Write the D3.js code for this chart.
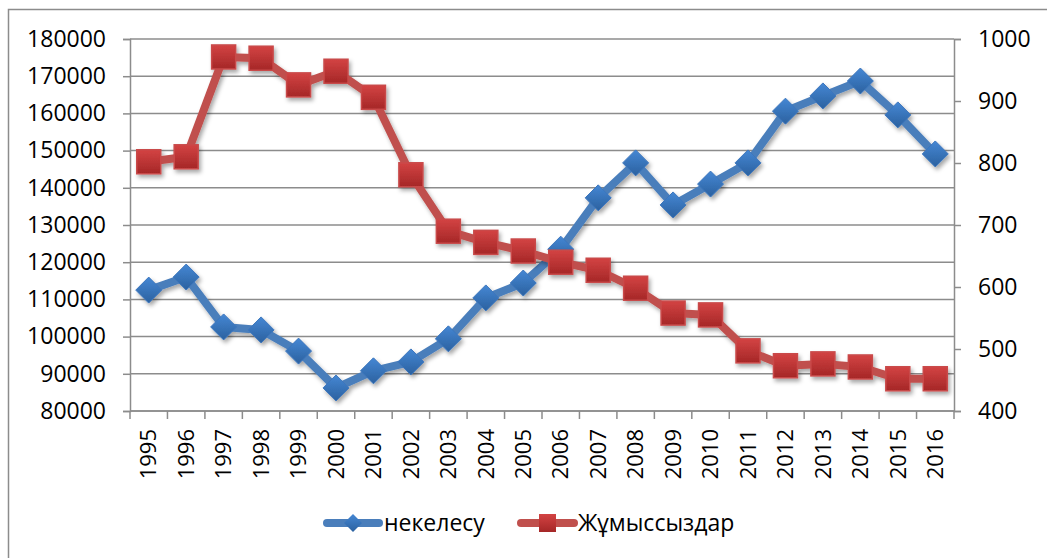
<!DOCTYPE html>
<html>
<head>
<meta charset="utf-8">
<script src="https://cdn.jsdelivr.net/npm/d3@7"></script>
<style>
  body { margin: 0; background: #fff; }
  text { font-family: "Open Sans", "Noto Sans", sans-serif; fill: #000; }
</style>
</head>
<body>
<div id="chart"></div>
<script>
// data
const years = ["1995","1996","1997","1998","1999","2000","2001","2002","2003","2004","2005",
               "2006","2007","2008","2009","2010","2011","2012","2013","2014","2015","2016"];
const nekelesu = [112500, 116000, 102600, 101800, 96100, 86200, 90800, 93200, 99400, 110400, 114400,
                  123500, 137300, 146700, 135400, 141000, 146700, 160600, 164700, 168700, 159600, 149100];
const zhumyssyzdar = [802, 810, 971, 969, 926, 948, 906, 781, 690, 672, 658,
                      640, 627, 598, 558, 555, 497, 473, 476, 471, 452, 452];
const leftTicks = [80000, 90000, 100000, 110000, 120000, 130000, 140000, 150000, 160000, 170000, 180000];
const rightTicks = [400, 500, 600, 700, 800, 900, 1000];
const seriesNames = ["некелесу", "Жұмыссыздар"];

const W = 1047, H = 558;
const margin = { top: 39, right: 93, bottom: 147, left: 130 };
const width = W - margin.left - margin.right;
const height = H - margin.top - margin.bottom;
const fontSize = 23;

const svg = d3.select("#chart")
    .append("svg")
    .attr("width", W)
    .attr("height", H);

// filters and gradients
const defs = svg.append("defs");
const shadow = defs.append("filter").attr("id", "shadow")
    .attr("x", "-50%").attr("y", "-50%").attr("width", "200%").attr("height", "200%");
shadow.append("feDropShadow")
    .attr("dx", 2).attr("dy", 3).attr("stdDeviation", 2)
    .attr("flood-color", "#000").attr("flood-opacity", 0.35);

const gBlue = defs.append("linearGradient").attr("id", "gBlue").attr("x1", 0).attr("y1", 0).attr("x2", 0).attr("y2", 1);
gBlue.append("stop").attr("offset", "0%").attr("stop-color", "#4587d4");
gBlue.append("stop").attr("offset", "100%").attr("stop-color", "#2b619f");
const gRed = defs.append("linearGradient").attr("id", "gRed").attr("x1", 0).attr("y1", 0).attr("x2", 0).attr("y2", 1);
gRed.append("stop").attr("offset", "0%").attr("stop-color", "#d34343");
gRed.append("stop").attr("offset", "100%").attr("stop-color", "#a52727");

// outer frame
svg.append("rect")
    .attr("x", 8.5).attr("y", 9.5)
    .attr("width", W + 20).attr("height", H + 20)
    .attr("fill", "none")
    .attr("stroke", "#8c8c8c")
    .attr("stroke-width", 1.5);

const g = svg.append("g")
    .attr("transform", "translate(" + margin.left + "," + margin.top + ")");

// scales
const xScale = d3.scaleBand()
    .domain(years)
    .range([0, width])
    .padding(0);

const yLeft = d3.scaleLinear()
    .domain([80000, 180000])
    .range([height, 0]);

const yRight = d3.scaleLinear()
    .domain([400, 1000])
    .range([height, 0]);

// gridlines
g.selectAll(".grid")
    .data(leftTicks)
    .enter().append("line")
    .attr("class", "grid")
    .attr("x1", 0)
    .attr("x2", width)
    .attr("y1", d => yLeft(d))
    .attr("y2", d => yLeft(d))
    .attr("stroke", "#8c8c8c")
    .attr("stroke-width", 1.5);

// left axis
const leftAxis = g.append("g")
    .call(d3.axisLeft(yLeft).tickValues(leftTicks).tickSize(7).tickPadding(17).tickFormat(d3.format("d")));
// right axis
const rightAxis = g.append("g")
    .attr("transform", "translate(" + width + ",0)")
    .call(d3.axisRight(yRight).tickValues(rightTicks).tickSize(7).tickPadding(17).tickFormat(d3.format("d")));

[leftAxis, rightAxis].forEach(a => {
    a.select(".domain").attr("stroke", "#8c8c8c").attr("stroke-width", 1.5);
    a.selectAll(".tick line").attr("stroke", "#8c8c8c").attr("stroke-width", 1.5);
    a.selectAll(".tick text").attr("font-size", fontSize).attr("font-family", "'Open Sans', sans-serif").attr("fill", "#000");
});

// bottom axis
const bottom = g.append("g")
    .attr("transform", "translate(0," + height + ")");
bottom.append("line")
    .attr("x1", 0).attr("x2", width)
    .attr("stroke", "#8c8c8c").attr("stroke-width", 1.5);
bottom.selectAll(".xtick")
    .data(years.concat(["end"]))
    .enter().append("line")
    .attr("class", "xtick")
    .attr("x1", d => d === "end" ? width : xScale(d))
    .attr("x2", d => d === "end" ? width : xScale(d))
    .attr("y1", 0).attr("y2", 8)
    .attr("stroke", "#8c8c8c").attr("stroke-width", 1.5);
bottom.selectAll(".xlabel")
    .data(years)
    .enter().append("text")
    .attr("class", "xlabel")
    .attr("transform", d => "translate(" + (xScale(d) + xScale.bandwidth() / 2) + ",18) rotate(-90)")
    .attr("text-anchor", "end")
    .attr("dy", "0.35em")
    .attr("font-size", fontSize - 1)
    .text(d => d);

const cx = d => xScale(d) + xScale.bandwidth() / 2;

// blue series (left axis)
const blueLine = d3.line()
    .x((d, i) => cx(years[i]))
    .y(d => yLeft(d));
const gBlueSeries = g.append("g").attr("filter", "url(#shadow)");
gBlueSeries.append("path")
    .datum(nekelesu)
    .attr("d", blueLine)
    .attr("fill", "none")
    .attr("stroke", "#4a7ebb")
    .attr("stroke-width", 8)
    .attr("stroke-linejoin", "round");
gBlueSeries.selectAll(".diamond")
    .data(nekelesu)
    .enter().append("path")
    .attr("class", "diamond")
    .attr("transform", (d, i) => "translate(" + cx(years[i]) + "," + yLeft(d) + ")")
    .attr("d", "M0,-13L13,0L0,13L-13,0Z")
    .attr("fill", "url(#gBlue)")
    .attr("stroke", "#3c76bd")
    .attr("stroke-width", 1);

// red series (right axis)
const redLine = d3.line()
    .x((d, i) => cx(years[i]))
    .y(d => yRight(d));
const gRedSeries = g.append("g").attr("filter", "url(#shadow)");
gRedSeries.append("path")
    .datum(zhumyssyzdar)
    .attr("d", redLine)
    .attr("fill", "none")
    .attr("stroke", "#c0504d")
    .attr("stroke-width", 8)
    .attr("stroke-linejoin", "round");
gRedSeries.selectAll(".square")
    .data(zhumyssyzdar)
    .enter().append("rect")
    .attr("class", "square")
    .attr("x", (d, i) => cx(years[i]) - 12)
    .attr("y", d => yRight(d) - 12)
    .attr("width", 24)
    .attr("height", 24)
    .attr("fill", "url(#gRed)")
    .attr("stroke", "#c94a4a")
    .attr("stroke-width", 1.5);

// legend
const legend = svg.append("g").attr("transform", "translate(0,523)");
const blueL = legend.append("g");
blueL.append("line")
    .attr("x1", 327).attr("x2", 379)
    .attr("stroke", "#4a7ebb").attr("stroke-width", 8).attr("stroke-linecap", "round");
blueL.append("path")
    .attr("transform", "translate(353,0)")
    .attr("d", "M0,-9L9,0L0,9L-9,0Z")
    .attr("fill", "url(#gBlue)");
blueL.append("text")
    .attr("x", 384).attr("dy", "0.35em")
    .attr("font-size", fontSize)
    .text(seriesNames[0]);
const redL = legend.append("g");
redL.append("line")
    .attr("x1", 521).attr("x2", 574)
    .attr("stroke", "#c0504d").attr("stroke-width", 8).attr("stroke-linecap", "round");
redL.append("rect")
    .attr("x", 539).attr("y", -9).attr("width", 17).attr("height", 18)
    .attr("fill", "url(#gRed)");
redL.append("text")
    .attr("x", 578).attr("dy", "0.35em")
    .attr("font-size", fontSize)
    .text(seriesNames[1]);
</script>
</body>
</html>
